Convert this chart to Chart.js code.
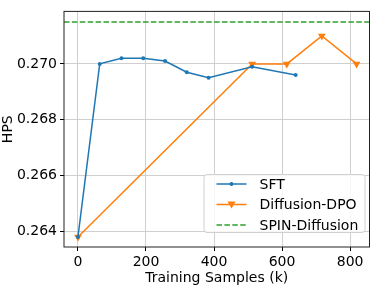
<!DOCTYPE html>
<html>
<head>
<meta charset="utf-8">
<script src="https://cdn.jsdelivr.net/npm/chart.js@4"></script>
<style>
  html, body { margin: 0; padding: 0; background: #fff; }
  #wrap { width: 374px; height: 286px; }
</style>
</head>
<body>
<div id="wrap"><canvas id="hpsChart" width="374" height="286"></canvas></div>
<script>
// Data
const sftSamples = [0, 64, 128, 192, 256, 320, 384, 512, 640];
const sftHps = [0.2638, 0.2700, 0.2702, 0.2702, 0.2701, 0.2697, 0.2695, 0.2699, 0.2696];

const dpoSamples = [0, 512, 614, 717, 819];
const dpoHps = [0.2638, 0.2700, 0.2700, 0.2710, 0.2700];

const spinHps = 0.2715;

const xRange = [-41, 857];
const yRange = [0.26344, 0.27188];

const seriesLabels = ['SFT', 'Diffusion-DPO', 'SPIN-Diffusion'];
const seriesColors = ['#1f77b4', '#ff7f0e', '#2ca02c'];

Chart.defaults.font.family = 'DejaVu Sans';
Chart.defaults.font.size = 14;
Chart.defaults.color = '#000';

// Frame round the plot area (matplotlib spines)
const framePlugin = {
    id: 'frame',
    afterDatasetsDraw(chart) {
        const { ctx, chartArea: a } = chart;
        ctx.save();
        ctx.strokeStyle = '#222';
        ctx.lineWidth = 1;
        ctx.strokeRect(a.left, a.top, a.right - a.left, a.bottom - a.top);
        ctx.restore();
    }
};

// Legend box in the lower right, like plt.legend(loc='lower right')
const legendPlugin = {
    id: 'boxLegend',
    afterDraw(chart) {
        const ctx = chart.ctx;
        const a = chart.chartArea;
        const w = 161, h = 58;
        const x0 = a.right - 5 - w, y0 = a.bottom - 15 - h;
        ctx.save();
        ctx.beginPath();
        ctx.roundRect(x0 + 0.5, y0 + 0.5, w, h, 3);
        ctx.fillStyle = 'rgba(255,255,255,0.8)';
        ctx.fill();
        ctx.strokeStyle = '#d0d0d0';
        ctx.lineWidth = 1;
        ctx.stroke();

        chart.data.datasets.forEach((ds, i) => {
            const y = y0 + 10 + i * 20.5;
            const lx = x0 + 13, rx = x0 + 43;
            ctx.strokeStyle = ds.borderColor;
            ctx.lineWidth = 1.5;
            ctx.setLineDash(ds.borderDash || []);
            ctx.beginPath();
            ctx.moveTo(lx, y);
            ctx.lineTo(rx, y);
            ctx.stroke();
            ctx.setLineDash([]);
            const cx = (lx + rx) / 2;
            ctx.fillStyle = ds.borderColor;
            if (i === 0) {
                ctx.beginPath();
                ctx.arc(cx, y, 2, 0, Math.PI * 2);
                ctx.fill();
            } else if (i === 1) {
                ctx.beginPath();
                ctx.moveTo(cx - 4, y - 3);
                ctx.lineTo(cx + 4, y - 3);
                ctx.lineTo(cx, y + 4);
                ctx.closePath();
                ctx.fill();
            }
            ctx.fillStyle = '#000';
            ctx.font = '14px "DejaVu Sans"';
            ctx.textBaseline = 'middle';
            ctx.fillText(ds.label, x0 + 56, y + 1);
        });
        ctx.restore();
    }
};

new Chart(document.getElementById('hpsChart'), {
    type: 'line',
    data: {
        datasets: [
            {
                label: seriesLabels[0],
                data: sftSamples.map((x, i) => ({ x: x, y: sftHps[i] })),
                borderColor: seriesColors[0],
                backgroundColor: seriesColors[0],
                borderWidth: 1.5,
                pointRadius: 2,
                pointBorderWidth: 0,
                tension: 0
            },
            {
                label: seriesLabels[1],
                data: dpoSamples.map((x, i) => ({ x: x, y: dpoHps[i] })),
                borderColor: seriesColors[1],
                backgroundColor: seriesColors[1],
                borderWidth: 1.5,
                pointStyle: 'triangle',
                rotation: 180,
                pointRadius: 4.5,
                pointBorderWidth: 0,
                tension: 0
            },
            {
                label: seriesLabels[2],
                data: xRange.map(x => ({ x: x, y: spinHps })),
                borderColor: seriesColors[2],
                borderWidth: 1.5,
                borderDash: [5.5, 2.4],
                pointRadius: 0,
                tension: 0
            }
        ]
    },
    options: {
        responsive: false,
        animation: false,
        layout: { padding: { top: 1, right: 2, left: 0, bottom: 0 } },
        plugins: {
            legend: { display: false },
            tooltip: { enabled: false }
        },
        scales: {
            x: {
                type: 'linear',
                min: xRange[0],
                max: xRange[1],
                afterFit: s => { s.height = 39; },
                border: { display: false },
                grid: { color: '#cfcfcf', lineWidth: 1, tickColor: '#000', tickLength: 4 },
                ticks: { stepSize: 200, includeBounds: false, padding: 3, maxRotation: 0 },
                title: { display: true, text: 'Training Samples (k)', padding: { top: 0, bottom: -1 } }
            },
            y: {
                type: 'linear',
                min: yRange[0],
                max: yRange[1],
                afterFit: s => { s.width = 64; },
                border: { display: false },
                grid: { color: '#cfcfcf', lineWidth: 1, tickColor: '#000', tickLength: 4 },
                ticks: {
                    stepSize: 0.002,
                    includeBounds: false,
                    padding: 3,
                    callback: v => v.toFixed(3)
                },
                title: { display: true, text: 'HPS', padding: { top: 0, bottom: 0 } }
            }
        }
    },
    plugins: [framePlugin, legendPlugin]
});
</script>
</body>
</html>
